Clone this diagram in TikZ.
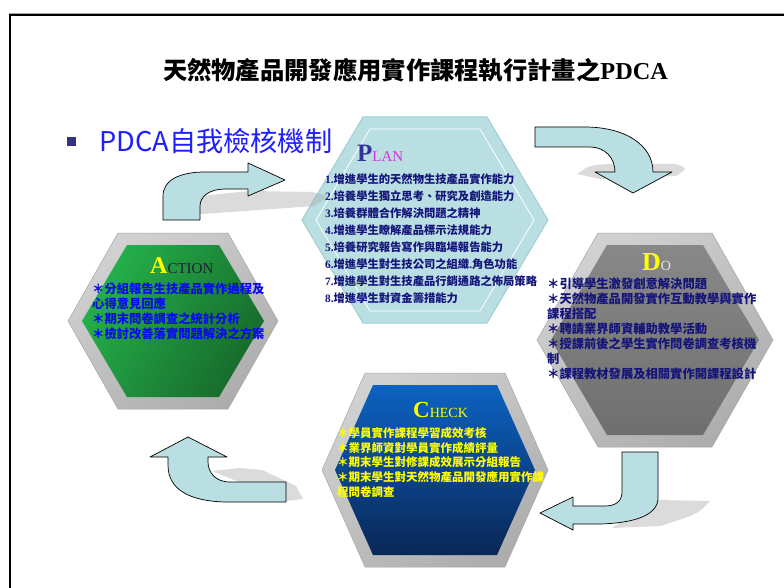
\documentclass[tikz,border=0pt]{standalone}
\usepackage{fontspec}
\setmainfont{Liberation Serif}
\newfontfamily\cjk{Noto Sans CJK TC}
\definecolor{pale}{HTML}{B9DFE2}
\definecolor{paleedge}{HTML}{A3CDD1}
\definecolor{navyt}{HTML}{14147A}
\definecolor{planP}{HTML}{333399}
\definecolor{magl}{HTML}{D633D6}
\definecolor{bluet}{HTML}{0A0AF0}
\definecolor{yel}{HTML}{FFFF00}
\definecolor{bul}{HTML}{333380}
\definecolor{bultext}{HTML}{1E1EFF}
\definecolor{dograyA}{HTML}{888888}
\definecolor{dograyB}{HTML}{6F6F6F}
\definecolor{greenA}{HTML}{25B14C}
\definecolor{greenB}{HTML}{176A2B}
\definecolor{blueA}{HTML}{0C62C2}
\definecolor{blueB}{HTML}{0A2756}
\definecolor{darkcap}{HTML}{202030}
\definecolor{lightcap}{HTML}{E6E6E6}
\newcommand{\hexfill}[6]{\path[#1] (#2-#4,#3) -- (#2-#5,#3-#6) -- (#2+#5,#3-#6) -- (#2+#4,#3) -- (#2+#5,#3+#6) -- (#2-#5,#3+#6) -- cycle;}
\tikzset{
  arrowbody/.style={fill=pale, draw=black, line width=0.7pt, line join=round},
  shadowshape/.style={fill=black!35, opacity=0.4},
  bevel/.style={left color=black!18, middle color=white, right color=black!32, shading angle=35, draw=black!35, line width=0.5pt},
  bodytext/.style={align=left, inner sep=0pt, anchor=north west},
  headtext/.style={anchor=base west, inner sep=0pt},
}
\begin{document}
\begin{tikzpicture}[x=1pt,y=-1pt]
\useasboundingbox (0,0) rectangle (784,588);
\fill[white] (0,0) rectangle (784,588);
% frame
\draw[black!35, line width=1pt] (8.5,13.5) -- (784,13.5);
\draw[black, line width=2pt] (10,588) -- (10,15.5) -- (784,15.5);

% title and bullet
\node[font=\cjk\bfseries\fontsize{24.3}{28}\selectfont] (title) at (415.5,70) {天然物產品開發應用實作課程執行計畫之{\rmfamily\bfseries PDCA}};
\fill[bul] (67,137) rectangle (76,146);
\node[anchor=west, inner sep=0pt, font=\cjk\fontsize{27.2}{30}\selectfont, text=bultext] (bullettxt) at (99,141) {PDCA自我檢核機制};

% PLAN hexagon
\hexfill{fill=pale, draw=paleedge, line width=1pt}{425}{220}{123}{62}{103}
\hexfill{draw=white, line width=0.8pt}{425}{220}{109}{55}{91}

% DO hexagon
\hexfill{bevel}{655}{340}{118}{57}{107}
\hexfill{top color=dograyA, bottom color=dograyB}{655}{340}{104}{48}{95}

% ACTION hexagon
\hexfill{bevel}{173}{321}{105}{55}{88}
\hexfill{left color=greenA, right color=greenB, shading angle=60}{173}{321}{91}{46}{76}

% CHECK hexagon
\hexfill{bevel}{435}{470}{113}{70}{97}
\hexfill{top color=blueA, bottom color=blueB}{435}{470}{100}{62}{85}

% arrow shadows
\path[shadowshape] (200,196) -- (250,191) -- (312,192) .. controls (330,196) .. (314,206) -- (230,212) -- (200,214) -- cycle;
\path[shadowshape] (577,174) .. controls (590,165) .. (610,164) -- (675,164) .. controls (688,168) .. (676,176) -- (600,179) -- cycle;
\path[shadowshape] (655,500) -- (710,501) .. controls (698,514) .. (660,526) -- (612,528) -- cycle;
\path[shadowshape] (212,471) -- (240,468) -- (262,470) -- (296,486) -- (303,499) -- (286,501) -- cycle;

% curved block arrows
\path[arrowbody] (163,220) -- (163,196) .. controls (163,180) and (180,172) .. (205,172) -- (248,172) -- (248,163) -- (285,180) -- (248,196) -- (248,189) -- (225,189) .. controls (210,189) and (200,196) .. (200,206) -- (200,220) -- cycle;
\path[arrowbody] (535,127) -- (585,127) .. controls (625,127) and (653,145) .. (653,172) -- (672,172) -- (633,193) -- (595,172) -- (615,172) .. controls (615,158) and (605,147) .. (590,147) -- (535,147) -- cycle;
\path[arrowbody] (622,452) -- (658,452) -- (658,498) .. controls (658,515) and (635,523) .. (600,524) -- (573,524) -- (573,530) -- (540,513) -- (573,497) -- (573,506) -- (605,506) .. controls (617,506) and (622,500) .. (622,492) -- cycle;
\path[arrowbody] (286,482) -- (230,482) .. controls (215,482) and (208,472) .. (208,462) -- (208,457) -- (227,457) -- (188,437) -- (150,457) -- (168,457) -- (168,465) .. controls (168,490) and (190,501) .. (225,502) -- (286,502) -- cycle;

% headings
\node[headtext] (planhd) at (357,162) {{\fontsize{25}{25}\selectfont\bfseries\color{planP}P}{\fontsize{15}{15}\selectfont\color{magl}LAN}};
\node[headtext] (actionhd) at (150,273) {{\fontsize{24}{24}\selectfont\bfseries\color{yel}A}{\fontsize{15}{15}\selectfont\color{darkcap}CTION}};
\node[headtext] (dohd) at (642,270) {{\fontsize{26}{26}\selectfont\bfseries\color{yel}D}{\fontsize{14}{14}\selectfont\color{lightcap}O}};
\node[headtext] (checkhd) at (413,417) {{\fontsize{23}{23}\selectfont\bfseries\color{yel}C}{\fontsize{14}{14}\selectfont\color{yel}HECK}};

% body texts
\node[bodytext, font=\cjk\bfseries\fontsize{11.3}{17}\selectfont, text=navyt] (plantxt) at (325,173.3) {%
{\rmfamily 1.}增進學生的天然物生技產品實作能力\\
{\rmfamily 2.}培養學生獨立思考、研究及創造能力\\
{\rmfamily 3.}培養群體合作解決問題之精神\\
{\rmfamily 4.}增進學生瞭解產品標示法規能力\\
{\rmfamily 5.}培養研究報告寫作與臨場報告能力\\
{\rmfamily 6.}增進學生對生技公司之組織{\rmfamily .}角色功能\\
{\rmfamily 7.}增進學生對生技產品行銷通路之佈局策略\\
{\rmfamily 8.}增進學生對資金籌措能力};

\node[bodytext, font=\cjk\bfseries\fontsize{12.3}{15}\selectfont, text=bluet] (actiontxt) at (92,282.5) {%
＊分組報告生技產品實作過程及\\
心得意見回應\\
＊期末問卷調查之統計分析\\
＊檢討改善落實問題解決之方案};

\node[bodytext, font=\cjk\bfseries\fontsize{12.3}{15}\selectfont, text=navyt] (dotxt) at (547,277.5) {%
＊引導學生激發創意解決問題\\
＊天然物產品開發實作互動教學與實作\\
課程搭配\\
＊聘請業界師資輔助教學活動\\
＊授課前後之學生實作問卷調查考核機\\
制\\
＊課程教材發展及相關實作開課程設計};

\node[bodytext, font=\cjk\bfseries\fontsize{11.5}{14.8}\selectfont, text=yel] (checktxt) at (337,427) {%
＊學員實作課程學習成效考核\\
＊業界師資對學員實作成績評量\\
＊期末學生對修課成效展示分組報告\\
＊期末學生對天然物產品開發應用實作課\\
程問卷調查};
\end{tikzpicture}
\end{document}
